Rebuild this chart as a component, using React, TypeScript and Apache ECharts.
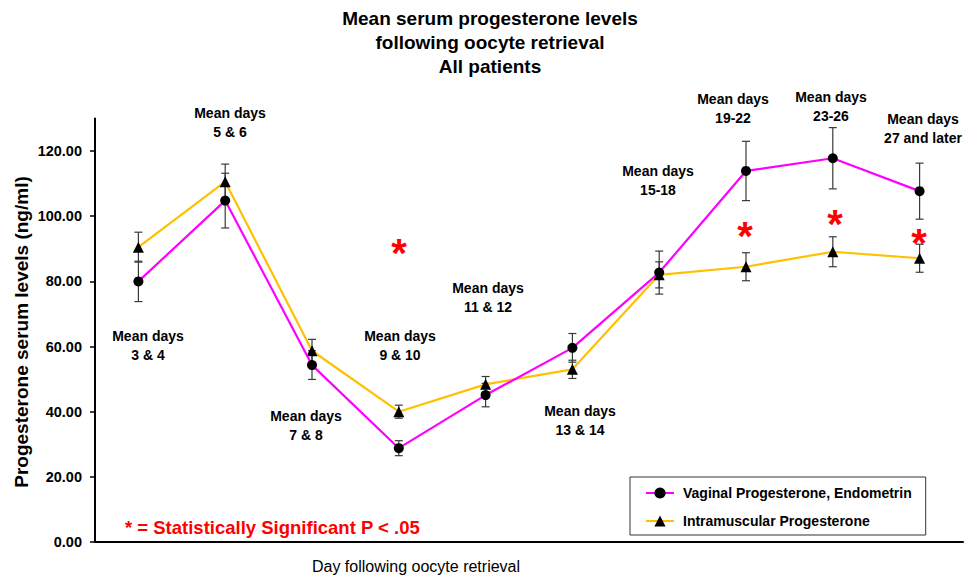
import React, { useEffect, useRef } from 'react';
import * as echarts from 'echarts';

const categories = ['3 & 4', '5 & 6', '7 & 8', '9 & 10', '11 & 12', '13 & 14', '15-18', '19-22', '23-26', '27 and later'];
const vaginalMean = [80, 104.8, 54.3, 28.8, 45.1, 59.6, 82.7, 113.9, 117.8, 107.7];
const vaginalErr = [6.2, 8.4, 4.4, 2.3, 3.6, 4.4, 6.6, 9.1, 9.4, 8.6];
const imMean = [90.5, 110.6, 58.7, 40, 48.4, 53, 82, 84.5, 89.1, 87.1];
const imErr = [4.6, 5.4, 3.5, 2, 2.4, 2.8, 4, 4.3, 4.6, 4.3];
const yTicks = [0, 20, 40, 60, 80, 100, 120];
const seriesNames = ['Vaginal Progesterone, Endometrin', 'Intramuscular Progesterone'];

// annotation layout (pixel positions of free text)
const dayLabels = [
  { text: 'Mean days\n3 & 4', x: 148, y: 345 },
  { text: 'Mean days\n5 & 6', x: 230, y: 122 },
  { text: 'Mean days\n7 & 8', x: 306, y: 425 },
  { text: 'Mean days\n9 & 10', x: 400, y: 345 },
  { text: 'Mean days\n11 & 12', x: 488, y: 297 },
  { text: 'Mean days\n13 & 14', x: 580, y: 420 },
  { text: 'Mean days\n15-18', x: 658, y: 180 },
  { text: 'Mean days\n19-22', x: 733, y: 108 },
  { text: 'Mean days\n23-26', x: 831, y: 106 },
  { text: 'Mean days\n27 and later', x: 923, y: 128 },
];
const stars = [
  { x: 399, y: 244 },
  { x: 745, y: 227 },
  { x: 835, y: 215 },
  { x: 919, y: 234 },
];

const FONT = 'Arial, "Liberation Sans", Helvetica, sans-serif';

export default function App() {
  const ref = useRef<HTMLDivElement>(null);
  useEffect(() => {
    if (!ref.current) return;
    const chart = echarts.init(ref.current, undefined, { renderer: 'svg' });

    const errRender = (params: any, api: any) => {
      const x = api.value(0);
      const lo = api.coord([x, api.value(1)]);
      const hi = api.coord([x, api.value(2)]);
      const w = 4;
      const st = { stroke: '#3a3a3a', lineWidth: 1.2 };
      return {
        type: 'group',
        children: [
          { type: 'line', shape: { x1: lo[0], y1: lo[1], x2: hi[0], y2: hi[1] }, style: st },
          { type: 'line', shape: { x1: lo[0] - w, y1: lo[1], x2: lo[0] + w, y2: lo[1] }, style: st },
          { type: 'line', shape: { x1: hi[0] - w, y1: hi[1], x2: hi[0] + w, y2: hi[1] }, style: st },
        ],
      };
    };

    const graphics: any[] = [
      {
        type: 'text',
        x: 490,
        y: 42,
        style: {
          text: 'Mean serum progesterone levels\nfollowing oocyte retrieval\nAll patients',
          font: `bold 19px ${FONT}`,
          fill: '#000',
          textAlign: 'center',
          textVerticalAlign: 'middle',
          lineHeight: 24,
        },
      },
      {
        type: 'text',
        x: 21,
        y: 332,
        rotation: Math.PI / 2,
        style: {
          text: 'Progesterone serum levels (ng/ml)',
          font: `bold 19px ${FONT}`,
          fill: '#000',
          textAlign: 'center',
          textVerticalAlign: 'middle',
        },
      },
      {
        type: 'text',
        x: 416,
        y: 566,
        style: {
          text: 'Day following oocyte retrieval',
          font: `16px ${FONT}`,
          fill: '#000',
          textAlign: 'center',
          textVerticalAlign: 'middle',
        },
      },
      {
        type: 'text',
        x: 125,
        y: 527,
        style: {
          text: '* = Statistically Significant P < .05',
          font: `bold 18.5px ${FONT}`,
          fill: '#ff0000',
          textAlign: 'left',
          textVerticalAlign: 'middle',
        },
      },
      ...dayLabels.map((d) => ({
        type: 'text',
        x: d.x,
        y: d.y,
        style: {
          text: d.text,
          font: `bold 14px ${FONT}`,
          fill: '#000',
          textAlign: 'center',
          textVerticalAlign: 'middle',
          lineHeight: 19,
        },
      })),
      ...stars.map((s) => ({
        type: 'text',
        x: s.x,
        y: s.y + 9,
        style: {
          text: '*',
          font: `bold 40px ${FONT}`,
          fill: '#ff0000',
          textAlign: 'center',
          textVerticalAlign: 'middle',
        },
      })),
    ];

    chart.setOption({
      animation: false,
      backgroundColor: '#fff',
      grid: { left: 95, right: 2, top: 118.5, bottom: 37, containLabel: false },
      legend: {
        data: [
          { name: seriesNames[0] },
          { name: seriesNames[1] },
        ],
        orient: 'vertical',
        left: 630,
        top: 477,
        padding: [9, 14, 7, 15],
        itemGap: 14,
        itemWidth: 28,
        itemHeight: 14,
        borderColor: '#333',
        borderWidth: 1,
        backgroundColor: '#fff',
        textStyle: { fontFamily: FONT, fontSize: 14, fontWeight: 'bold', color: '#000', padding: [0, 0, 0, 4] },
      },
      xAxis: {
        type: 'category',
        data: categories,
        boundaryGap: true,
        axisLine: { lineStyle: { color: '#000', width: 2 } },
        axisTick: { show: false },
        axisLabel: { show: false },
        splitLine: { show: false },
      },
      yAxis: {
        type: 'value',
        min: 0,
        max: 130,
        interval: 20,
        axisLine: { show: true, lineStyle: { color: '#000', width: 2 } },
        axisTick: { show: true, length: 5, lineStyle: { color: '#000', width: 1.5 }, customValues: yTicks },
        axisLabel: {
          customValues: yTicks,
          formatter: (v: number) => v.toFixed(2),
          fontFamily: FONT,
          fontSize: 14.5,
          fontWeight: 'bold',
          color: '#000',
          margin: 13,
        },
        splitLine: { show: false },
      },
      series: [
        {
          name: seriesNames[0] + ' err',
          type: 'custom',
          renderItem: errRender,
          encode: { x: 0, y: [1, 2] },
          data: vaginalMean.map((m, i) => [i, m - vaginalErr[i], m + vaginalErr[i]]),
          z: 3,
          silent: true,
        },
        {
          name: seriesNames[1] + ' err',
          type: 'custom',
          renderItem: errRender,
          encode: { x: 0, y: [1, 2] },
          data: imMean.map((m, i) => [i, m - imErr[i], m + imErr[i]]),
          z: 3,
          silent: true,
        },
        {
          name: seriesNames[1],
          type: 'line',
          data: imMean,
          symbol: 'triangle',
          symbolSize: 11,
          lineStyle: { color: '#ffc000', width: 2.2 },
          itemStyle: { color: '#000' },
          z: 4,
        },
        {
          name: seriesNames[0],
          type: 'line',
          data: vaginalMean,
          symbol: 'circle',
          symbolSize: 10,
          lineStyle: { color: '#ff00ff', width: 2.2 },
          itemStyle: { color: '#000' },
          z: 5,
        },
      ],
      graphic: graphics,
    });
    return () => chart.dispose();
  }, []);
  return <div ref={ref} style={{ position: 'fixed', left: 0, top: 0, width: 965, height: 579 }} />;
}
